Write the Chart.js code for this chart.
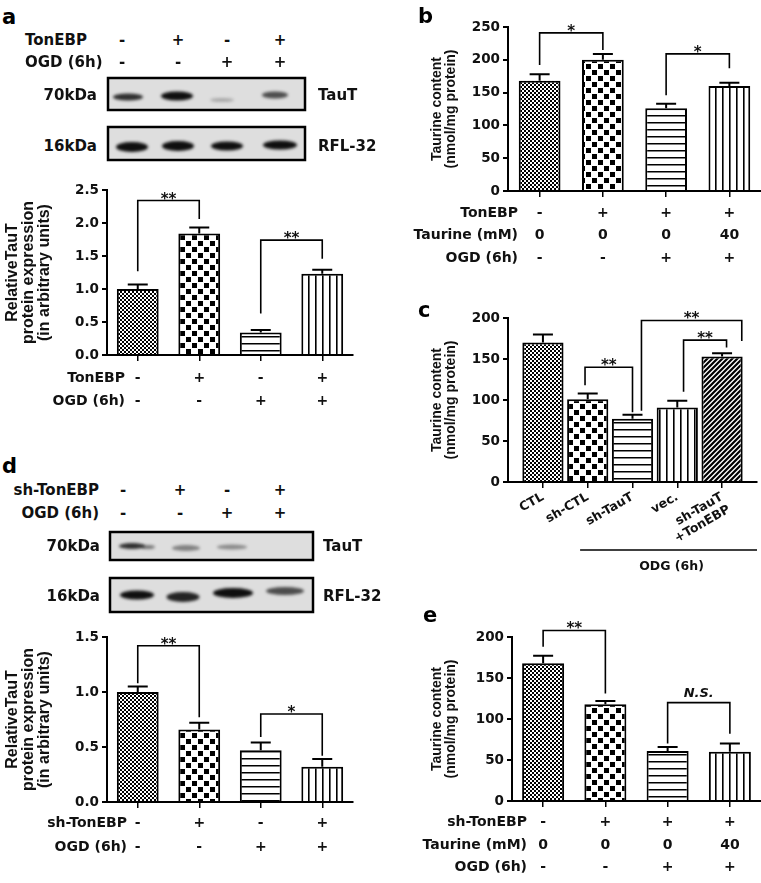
<!DOCTYPE html>
<html lang="en">
<head>
<meta charset="UTF-8">
<title>TonEBP / TauT / taurine content</title>
<script src="https://cdn.jsdelivr.net/npm/chart.js"></script>
<style>
    body { margin: 0; background: #fff; }
    #page { position: relative; width: 761px; height: 883px; overflow: hidden; font-family: "DejaVu Sans", sans-serif; }
    .box { position: absolute; }
    .lbl { position: absolute; font-weight: bold; font-size: 15px; color: #111; white-space: nowrap; line-height: 18px; transform: translateY(-50%); }
    .lbl.r { transform: translate(-100%, -50%); }
    .lbl.c { transform: translate(-50%, -50%); }
    .letter { position: absolute; font-weight: bold; font-size: 21px; color: #000; line-height: 22px; transform: translateY(-50%); }
</style>
</head>
<body>
<div id="page"></div>
<script>
// ---- panel a: TauT protein, TonEBP overexpression ----
const aTonEBP = ['-', '+', '-', '+'];
const aOGD = ['-', '-', '+', '+'];
const aValues = [1.00, 1.84, 0.34, 1.23];
const aErrors = [0.07, 0.09, 0.04, 0.06];
const aTicks = [0, 0.5, 1.0, 1.5, 2.0, 2.5];
// [from, to, bracket top, left leg end, right leg end, label]
const aSig = [[0, 1, 2.34, 1.27, 2.06, '**'], [2, 3, 1.74, 0.63, 1.46, '**']];

// ---- panel b: taurine content, TonEBP ----
const bTonEBP = ['-', '+', '+', '+'];
const bTaurine = ['0', '0', '0', '40'];
const bOGD = ['-', '-', '+', '+'];
const bValues = [168, 200, 126, 160];
const bErrors = [10, 9, 7, 5];
const bTicks = [0, 50, 100, 150, 200, 250];
const bSig = [[0, 1, 241, 192, 215, '*'], [2, 3, 209, 146, 187, '*']];

// ---- panel c: taurine content, sh-TauT ----
const cLabels = ['CTL', 'sh-CTL', 'sh-TauT', 'vec.', ['sh-TauT', '+TonEBP']];
const cValues = [170, 101, 77, 91, 153];
const cErrors = [10, 7, 5, 8, 4];
const cTicks = [0, 50, 100, 150, 200];
const cSig = [[0.94, 2.0, 140, 118, 85, '**'], [2.2, 4.44, 197, 87, 172, '**'], [3.14, 4.1, 173, 110, 164, '**']];
const cGroup = ['ODG (6h)', 0.83, 4.78];

// ---- panel d: TauT protein, sh-TonEBP ----
const dShTonEBP = ['-', '+', '-', '+'];
const dOGD = ['-', '-', '+', '+'];
const dValues = [1.00, 0.66, 0.47, 0.32];
const dErrors = [0.05, 0.06, 0.07, 0.07];
const dTicks = [0, 0.5, 1.0, 1.5];
const dSig = [[0, 1, 1.42, 1.08, 0.77, '**'], [2, 3, 0.80, 0.59, 0.42, '*']];

// ---- panel e: taurine content, sh-TonEBP ----
const eShTonEBP = ['-', '+', '+', '+'];
const eTaurine = ['0', '0', '0', '40'];
const eOGD = ['-', '-', '+', '+'];
const eValues = [168, 118, 61, 60];
const eErrors = [9, 4, 5, 10];
const eTicks = [0, 50, 100, 150, 200];
const eSig = [[0, 1, 208, 188, 131, '**'], [2, 3, 120, 70, 82, 'N.S.']];

const page = document.getElementById('page');
const TXT = '"DejaVu Sans"';

function addLabel(text, x, y, cls) {
    const d = document.createElement('div');
    d.className = cls;
    d.textContent = text;
    d.style.left = x + 'px';
    d.style.top = y + 'px';
    page.appendChild(d);
}

function makePattern(kind) {
    const s = {checker: 12, fine: 4, hlines: 7, vlines: 7, diag: 5}[kind];
    const c = document.createElement('canvas');
    c.width = s; c.height = s;
    const g = c.getContext('2d');
    g.fillStyle = '#fff';
    g.fillRect(0, 0, s, s);
    g.fillStyle = '#000';
    g.strokeStyle = '#000';
    if (kind === 'fine') {
        g.fillRect(0, 0, 2, 2); g.fillRect(2, 2, 2, 2);
    } else if (kind === 'checker') {
        g.fillRect(0, 0, 5, 5); g.fillRect(6, 6, 5, 5);
    } else if (kind === 'hlines') {
        g.fillRect(0, 0, s, 1.5);
    } else if (kind === 'vlines') {
        g.fillRect(0, 0, 1.6, s);
    } else if (kind === 'diag') {
        g.lineWidth = 2.2;
        g.beginPath();
        g.moveTo(-1, s + 1); g.lineTo(s + 1, -1);
        g.moveTo(-2, 2); g.lineTo(2, -2);
        g.moveTo(s - 2, s + 2); g.lineTo(s + 2, s - 2);
        g.stroke();
    }
    return g.createPattern(c, 'repeat');
}
const P = {};
['fine', 'checker', 'hlines', 'vlines', 'diag'].forEach(k => P[k] = makePattern(k));

// error bars: only the upper whisker
const errorBars = {
    id: 'errorBars',
    afterDatasetsDraw(chart) {
        const {ctx, scales: {y}} = chart;
        const ds = chart.data.datasets[0];
        ctx.save();
        ctx.strokeStyle = '#000';
        ctx.lineWidth = 2;
        chart.getDatasetMeta(0).data.forEach((bar, i) => {
            const v = typeof ds.data[i] === 'object' ? ds.data[i].y : ds.data[i];
            const top = y.getPixelForValue(v + ds.errors[i]);
            ctx.beginPath();
            ctx.moveTo(bar.x, bar.y);
            ctx.lineTo(bar.x, top);
            ctx.moveTo(bar.x - 10, top);
            ctx.lineTo(bar.x + 10, top);
            ctx.stroke();
        });
        ctx.restore();
    }
};

function sigPlugin(sig) {
    return {
        id: 'sig',
        afterDatasetsDraw(chart) {
            const {ctx, scales: {x, y}} = chart;
            ctx.save();
            ctx.strokeStyle = '#000';
            ctx.lineWidth = 1.6;
            ctx.fillStyle = '#111';
            ctx.textAlign = 'center';
            ctx.textBaseline = 'alphabetic';
            sig.forEach(([i, j, top, l, r, txt]) => {
                const x1 = x.getPixelForValue(i), x2 = x.getPixelForValue(j);
                const yt = y.getPixelForValue(top);
                ctx.beginPath();
                ctx.moveTo(x1, y.getPixelForValue(l));
                ctx.lineTo(x1, yt);
                ctx.lineTo(x2, yt);
                ctx.lineTo(x2, y.getPixelForValue(r));
                ctx.stroke();
                const ns = txt.indexOf('*') < 0;
                ctx.font = ns ? 'italic bold 13px ' + TXT : 'bold 15px ' + TXT;
                ctx.fillText(txt, (x1 + x2) / 2, ns ? yt - 6 : yt + 3);
            });
            ctx.restore();
        }
    };
}

function tablePlugin(rows, labelRight) {
    return {
        id: 'table',
        afterDraw(chart) {
            const {ctx, chartArea, scales: {x}} = chart;
            ctx.save();
            ctx.font = 'bold 14px ' + TXT;
            ctx.fillStyle = '#111';
            ctx.textBaseline = 'middle';
            rows.forEach(([label, vals, dy]) => {
                const yy = chartArea.bottom + dy;
                ctx.textAlign = 'right';
                ctx.fillText(label, labelRight, yy);
                ctx.textAlign = 'center';
                vals.forEach((v, i) => ctx.fillText(v, x.getPixelForValue(i), yy));
            });
            ctx.restore();
        }
    };
}

function groupPlugin(group) {
    return {
        id: 'group',
        afterDraw(chart) {
            const {ctx, chartArea, scales: {x}} = chart;
            const x1 = x.getPixelForValue(group[1]), x2 = x.getPixelForValue(group[2]);
            ctx.save();
            ctx.strokeStyle = '#000';
            ctx.lineWidth = 1.5;
            ctx.beginPath();
            ctx.moveTo(x1, chartArea.bottom + 68);
            ctx.lineTo(x2, chartArea.bottom + 68);
            ctx.stroke();
            ctx.font = 'bold 12.5px ' + TXT;
            ctx.fillStyle = '#111';
            ctx.textAlign = 'center';
            ctx.textBaseline = 'middle';
            ctx.fillText(group[0], (x1 + x2) / 2 + 3, chartArea.bottom + 85);
            ctx.restore();
        }
    };
}

// p.box = [left, top, width, height], p.plot = [left, top, right, bottom] in page pixels
function panel(p) {
    const [bl, bt, bw, bh] = p.box;
    const [pl, pt, pr, pb] = p.plot;
    const wrap = document.createElement('div');
    wrap.className = 'box';
    Object.assign(wrap.style, {left: bl + 'px', top: bt + 'px', width: bw + 'px', height: bh + 'px'});
    const cv = document.createElement('canvas');
    cv.width = bw; cv.height = bh;
    wrap.appendChild(cv);
    page.appendChild(wrap);

    const linear = p.type === 'linear';
    const xScale = {
        z: 1,
        offset: !linear,
        afterFit: s => { s.height = bt + bh - pb; },
        border: {color: '#000', width: 2},
        grid: {drawOnChartArea: false, offset: false, tickLength: 6, color: '#000', lineWidth: 1.5},
        ticks: {display: false}
    };
    if (linear) {
        Object.assign(xScale, {
            type: 'linear', min: p.xRange[0], max: p.xRange[1],
            afterBuildTicks: s => { s.ticks = p.labels.map((_, i) => ({value: i})); },
            ticks: {
                display: true, autoSkip: false, minRotation: 30, maxRotation: 30, padding: 2,
                color: '#111', font: {family: 'DejaVu Sans', size: 12.5, weight: 'bold', lineHeight: 1.15},
                callback: (v, i) => p.labels[i]
            }
        });
    }
    const data = linear ? p.values.map((v, i) => ({x: i, y: v})) : p.values;
    new Chart(cv, {
        type: 'bar',
        data: {
            labels: linear ? undefined : p.values.map((_, i) => 'g' + (i + 1)),
            datasets: [{
                data: data,
                errors: p.errors,
                backgroundColor: p.fills.map(k => P[k]),
                borderColor: '#000',
                borderWidth: 2,
                barPercentage: p.barPct,
                categoryPercentage: 1
            }]
        },
        options: {
            responsive: false,
            animation: false,
            events: [],
            layout: {padding: {left: 0, top: pt - bt, right: bl + bw - pr, bottom: 0}},
            plugins: {legend: {display: false}, tooltip: {enabled: false}},
            scales: {
                x: xScale,
                y: {
                    min: p.ticks[0],
                    max: p.ticks[p.ticks.length - 1],
                    afterBuildTicks: s => { s.ticks = p.ticks.map(v => ({value: v})); },
                    afterFit: s => { s.width = pl - bl; },
                    border: {color: '#000', width: 2},
                    grid: {drawOnChartArea: false, tickLength: 5, color: '#000', lineWidth: 2},
                    ticks: {
                        color: '#111', padding: 3,
                        font: {family: 'DejaVu Sans', size: 13.5, weight: 'bold'},
                        callback: v => p.decimals ? v.toFixed(p.decimals) : String(v)
                    },
                    title: {
                        display: true, text: p.title, color: '#111',
                        font: {family: 'Liberation Sans', size: p.titleSize, weight: 'bold', lineHeight: 1},
                        padding: {top: p.titlePad, bottom: 0}
                    }
                }
            }
        },
        plugins: [errorBars, sigPlugin(p.sig)].concat(
            p.rows ? [tablePlugin(p.rows, p.labelRight - bl)] : [],
            p.group ? [groupPlugin(p.group)] : [])
    });
}

const relTitle = ['RelativeTauT', 'protein expression', '(in arbitrary units)'];
const tauTitle = ['Taurine content', '(nmol/mg protein)'];

panel({
    box: [0, 175, 360, 245], plot: [107, 190, 353, 355],
    values: aValues, errors: aErrors, ticks: aTicks, decimals: 1, sig: aSig,
    fills: ['fine', 'checker', 'hlines', 'vlines'], barPct: 0.68,
    title: relTitle, titleSize: 16, titlePad: 4.5,
    rows: [['TonEBP', aTonEBP, 23], ['OGD (6h)', aOGD, 46]], labelRight: 125
});
panel({
    box: [400, 10, 361, 265], plot: [508, 27, 761, 191],
    values: bValues, errors: bErrors, ticks: bTicks, decimals: 0, sig: bSig,
    fills: ['fine', 'checker', 'hlines', 'vlines'], barPct: 0.66,
    title: tauTitle, titleSize: 14, titlePad: 30,
    rows: [['TonEBP', bTonEBP, 22], ['Taurine (mM)', bTaurine, 44], ['OGD (6h)', bOGD, 67]], labelRight: 518
});
panel({
    box: [400, 296, 361, 284], plot: [508, 318, 757, 482], type: 'linear', xRange: [-0.78, 4.78],
    labels: cLabels, values: cValues, errors: cErrors, ticks: cTicks, decimals: 0, sig: cSig,
    fills: ['fine', 'checker', 'hlines', 'vlines', 'diag'], barPct: 0.92,
    title: tauTitle, titleSize: 14, titlePad: 30, group: cGroup
});
panel({
    box: [0, 625, 360, 258], plot: [107, 637, 353, 802],
    values: dValues, errors: dErrors, ticks: dTicks, decimals: 1, sig: dSig,
    fills: ['fine', 'checker', 'hlines', 'vlines'], barPct: 0.68,
    title: relTitle, titleSize: 16, titlePad: 4.5,
    rows: [['sh-TonEBP', dShTonEBP, 21], ['OGD (6h)', dOGD, 45]], labelRight: 127
});
panel({
    box: [400, 600, 361, 283], plot: [512, 637, 761, 801],
    values: eValues, errors: eErrors, ticks: eTicks, decimals: 0, sig: eSig,
    fills: ['fine', 'checker', 'hlines', 'vlines'], barPct: 0.675,
    title: tauTitle, titleSize: 14, titlePad: 30,
    rows: [['sh-TonEBP', eShTonEBP, 21], ['Taurine (mM)', eTaurine, 44], ['OGD (6h)', eOGD, 66]], labelRight: 527
});

// ---- western blot images (drawn, not data) ----
function blot(left, top, w, h, boxes) {
    const cv = document.createElement('canvas');
    cv.width = w; cv.height = h;
    cv.className = 'box';
    cv.style.left = left + 'px';
    cv.style.top = top + 'px';
    page.appendChild(cv);
    const g = cv.getContext('2d');
    boxes.forEach(b => {
        const [x0, y0, x1, y1] = b.rect.map((v, i) => v - (i % 2 ? top : left));
        g.fillStyle = '#dedede';
        g.fillRect(x0, y0, x1 - x0, y1 - y0);
        g.save();
        g.beginPath();
        g.rect(x0, y0, x1 - x0, y1 - y0);
        g.clip();
        g.filter = 'blur(1.6px)';
        b.bands.forEach(([cx, cy, bw, bh, a]) => {
            g.fillStyle = 'rgba(15,15,15,' + a + ')';
            g.beginPath();
            g.ellipse(cx - left, cy - top, bw / 2, bh / 2, 0, 0, Math.PI * 2);
            g.fill();
        });
        g.restore();
        g.strokeStyle = '#000';
        g.lineWidth = 2.5;
        g.strokeRect(x0, y0, x1 - x0, y1 - y0);
    });
}
blot(100, 70, 220, 100, [
    {rect: [108, 78, 305, 110], bands: [[128, 97, 30, 7, 0.85], [177, 96, 32, 9, 1], [222, 100, 24, 4, 0.25], [275, 95, 26, 7, 0.7]]},
    {rect: [108, 127, 305, 160], bands: [[132, 147, 32, 10, 1], [178, 146, 32, 10, 1], [227, 146, 32, 9, 1], [280, 145, 34, 9, 1]]}
]);
blot(100, 525, 225, 95, [
    {rect: [110, 532, 313, 560], bands: [[132, 546, 26, 6, 0.85], [148, 547, 14, 4, 0.5], [186, 548, 28, 6, 0.45], [232, 547, 30, 5, 0.4]]},
    {rect: [110, 578, 313, 612], bands: [[137, 595, 34, 9, 1], [183, 597, 33, 10, 0.9], [233, 593, 40, 10, 1], [285, 591, 38, 8, 0.7]]}
]);

// blot headers and labels
const laneA = [122, 178, 227, 280];
const laneD = [123, 180, 227, 280];
[['TonEBP', aTonEBP, 40], ['OGD (6h)', aOGD, 62]].forEach(([t, v, y]) => {
    addLabel(t, 25, y, 'lbl');
    v.forEach((s, i) => addLabel(s, laneA[i], y, 'lbl c'));
});
[['sh-TonEBP', dShTonEBP, 490], ['OGD (6h)', dOGD, 513]].forEach(([t, v, y]) => {
    addLabel(t, 99, y, 'lbl r');
    v.forEach((s, i) => addLabel(s, laneD[i], y, 'lbl c'));
});
addLabel('70kDa', 97, 95, 'lbl r');
addLabel('16kDa', 97, 146, 'lbl r');
addLabel('TauT', 318, 95, 'lbl');
addLabel('RFL-32', 318, 146, 'lbl');
addLabel('70kDa', 100, 546, 'lbl r');
addLabel('16kDa', 100, 596, 'lbl r');
addLabel('TauT', 323, 546, 'lbl');
addLabel('RFL-32', 323, 596, 'lbl');

// panel letters
[['a', 2, 17], ['b', 418, 16], ['c', 418, 310], ['d', 2, 466], ['e', 423, 615]].forEach(([t, x, y]) => addLabel(t, x, y, 'letter'));
</script>
</body>
</html>
